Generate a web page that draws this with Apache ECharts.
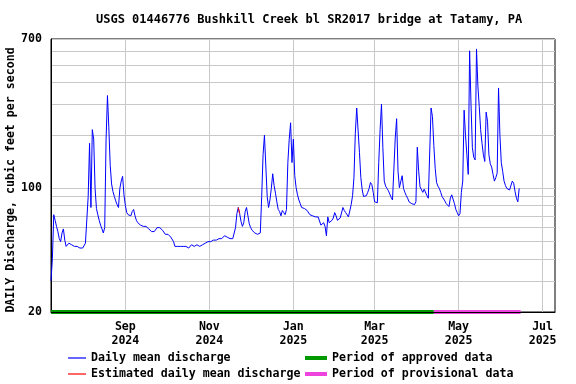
<!DOCTYPE html>
<html>
<head>
<meta charset="utf-8">
<script src="https://cdn.jsdelivr.net/npm/echarts@6/dist/echarts.min.js"></script>
<style>html,body{margin:0;padding:0;background:#fff}#c{width:576px;height:384px}</style>
</head>
<body>
<div id="c"></div>
<script>
// ---- data ----
const titleText = 'USGS 01446776 Bushkill Creek bl SR2017 bridge at Tatamy, PA';
const yAxisName = 'DAILY Discharge, cubic feet per second';
const startDate = [2024, 6, 9];      // first daily value: 2024-07-09
const axisStart = '2024-07-09';
const axisEnd = '2025-07-10';
const monthTicks = ['2024-09-01', '2024-11-01', '2025-01-01', '2025-03-01', '2025-05-01', '2025-07-01'];
const yLabelValues = [20, 100, 700];
const yGridValues = [20, 30, 40, 50, 60, 70, 80, 90, 100, 200, 300, 400, 500, 600, 700];
// daily mean discharge, cfs
const flow = [
  30, 40, 71, 66, 61, 57, 52, 50, 56, 59,
  51, 47, 46, 49, 48, 48, 47, 47, 46, 47,
  46, 46, 46, 46, 47, 49, 50, 90, 180, 78,
  215, 190, 100, 77, 71, 66, 62, 59, 56, 60,
  190, 335, 220, 135, 106, 96, 90, 85, 81, 78,
  100, 110, 117, 92, 80, 73, 71, 70, 70, 74,
  76, 70, 66, 64, 63, 62, 61, 61, 61, 61,
  60, 59, 58, 57, 56, 57, 58, 60, 61, 60,
  59, 58, 57, 55, 54, 55, 54, 53, 53, 50,
  47, 47, 47, 47, 47, 47, 47, 48, 47, 47,
  46, 47, 48, 47, 47, 48, 48, 48, 47, 47,
  48, 47, 49, 50, 50, 50, 50, 50, 51, 51,
  51, 51, 52, 52, 52, 53, 54, 54, 53, 53,
  52, 52, 52, 52, 60, 72, 78, 72, 65, 61,
  64, 74, 78, 70, 63, 60, 58, 57, 56, 55,
  55, 56, 56, 90, 155, 200, 205, 90, 78, 86,
  100, 121, 104, 94, 84, 76, 74, 70, 75, 73,
  71, 76, 140, 190, 235, 140, 190, 118, 101, 92,
  86, 82, 78, 78, 77, 76, 75, 74, 71, 70,
  70, 70, 69, 69, 69, 68, 62, 61, 64, 61,
  54, 69, 64, 65, 66, 68, 73, 70, 66, 67,
  68, 68, 78, 75, 73, 71, 69, 69, 81, 91,
  115, 205, 285, 285, 160, 115, 98, 90, 88, 91,
  95, 100, 108, 105, 95, 84, 83, 83, 140, 215,
  300, 170, 110, 103, 100, 97, 93, 89, 86, 84,
  193, 248, 125, 101, 100, 118, 100, 95, 91, 88,
  84, 82, 82, 82, 81, 84, 171, 125, 102, 100,
  95, 99, 99, 91, 88, 88, 285, 255, 175, 130,
  108, 103, 100, 95, 90, 88, 85, 82, 80, 79,
  88, 92, 90, 82, 76, 73, 70, 72, 95, 110,
  277, 200, 155, 120, 600, 300, 170, 150, 145, 615,
  380, 290, 215, 180, 155, 142, 270, 240, 155, 138,
  132, 120, 110, 115, 122, 370, 200, 140, 125, 110,
  104, 100, 99, 98, 98, 110, 107, 96, 88, 84,
  100
];
const estimatedIdx = [136, 137];
const approvedPeriod = ['2024-07-09', '2025-04-13'];
const provisionalPeriod = ['2025-04-13', '2025-06-15'];
const periodLevel = 20;

// ---- build ----
function dayTs(i) { return new Date(startDate[0], startDate[1], startDate[2] + i).getTime(); }
function parseD(s) { const p = s.split('-').map(Number); return new Date(p[0], p[1] - 1, p[2]).getTime(); }
const mainData = flow.map((v, i) => [dayTs(i), v]);
const estData = flow.map((v, i) => [dayTs(i), estimatedIdx.indexOf(i) >= 0 ? v : null]);
const monthNames = ['Jan','Feb','Mar','Apr','May','Jun','Jul','Aug','Sep','Oct','Nov','Dec'];
const FONT = '"DejaVu Sans Mono", "Liberation Mono", monospace';
const txt = { fontFamily: FONT, fontWeight: 'bold', fontSize: 11.6, color: '#000' };
const GRID = '#c8c8c8';

const chart = echarts.init(document.getElementById('c'), null, { renderer: 'canvas' });
chart.setOption({
  animation: false,
  backgroundColor: '#fff',
  title: {
    text: titleText, left: 96, top: 14, padding: 0,
    textStyle: { fontFamily: FONT, fontWeight: 'bold', fontSize: 12, color: '#000' }
  },
  grid: { left: 51, right: 21, top: 39, bottom: 72, containLabel: false, outerBoundsMode: 'none',
          show: true, borderColor: '#000', borderWidth: 1, backgroundColor: 'transparent' },
  xAxis: {
    type: 'value', min: parseD(axisStart), max: parseD(axisEnd), z: 5,
    axisLine: { show: true, lineStyle: { color: '#000', width: 1 } },
    axisTick: { show: false },
    axisLabel: {
      customValues: monthTicks.map(parseD), margin: 8, ...txt, lineHeight: 14,
      formatter: v => { const d = new Date(v); return monthNames[d.getMonth()] + '\n' + d.getFullYear(); }
    },
    splitLine: { show: false }
  },
  yAxis: {
    type: 'log', logBase: 10, min: 20, max: 700,
    name: yAxisName, nameLocation: 'middle', nameGap: 34, nameRotate: 90, nameMoveOverlap: false,
    nameTextStyle: { ...txt, padding: [0, 9, 0, 0] },
    axisLine: { show: true, lineStyle: { color: '#000', width: 1 } },
    axisTick: { show: false, customValues: yGridValues },
    axisLabel: { customValues: yLabelValues, margin: 9, ...txt },
    splitLine: { show: true, lineStyle: { color: GRID, width: 1 } }
  },
  legend: [
    {
      data: [{ name: 'Daily mean discharge', icon: 'rect' }, { name: 'Estimated daily mean discharge', icon: 'rect' }],
      orient: 'vertical', left: 68, top: 351, padding: 0, itemWidth: 18, itemHeight: 1.2, itemGap: 2,
      textStyle: { ...txt, lineHeight: 14 }, selectedMode: false
    },
    {
      data: [{ name: 'Period of approved data', icon: 'rect' }, { name: 'Period of provisional data', icon: 'rect' }],
      orient: 'vertical', left: 305, top: 351, padding: 0, itemWidth: 22, itemHeight: 4, itemGap: 2,
      textStyle: { ...txt, lineHeight: 14 }, selectedMode: false
    }
  ],
  series: [
    {
      name: 'Period of approved data', type: 'line', symbol: 'none', color: '#009900',
      lineStyle: { width: 4, color: '#009900' },
      data: approvedPeriod.map(d => [parseD(d), periodLevel]), z: 3,
      markLine: {
        silent: true, symbol: 'none', label: { show: false },
        lineStyle: { color: GRID, width: 1, type: 'solid' },
        data: monthTicks.map(d => ({ xAxis: parseD(d) })), z: 1
      }
    },
    {
      name: 'Period of provisional data', type: 'line', symbol: 'none', color: '#ee44dd',
      lineStyle: { width: 4, color: '#ee44dd' },
      data: provisionalPeriod.map(d => [parseD(d), periodLevel]), z: 3
    },
    {
      name: 'Daily mean discharge', type: 'line', symbol: 'none', color: '#0000ff',
      lineStyle: { width: 1, color: '#0000ff' }, data: mainData, z: 4
    },
    {
      name: 'Estimated daily mean discharge', type: 'line', symbol: 'none', color: '#ff0000',
      lineStyle: { width: 1, color: '#ff0000' }, data: estData, connectNulls: false, z: 5
    }
  ]
});
</script>
</body>
</html>
